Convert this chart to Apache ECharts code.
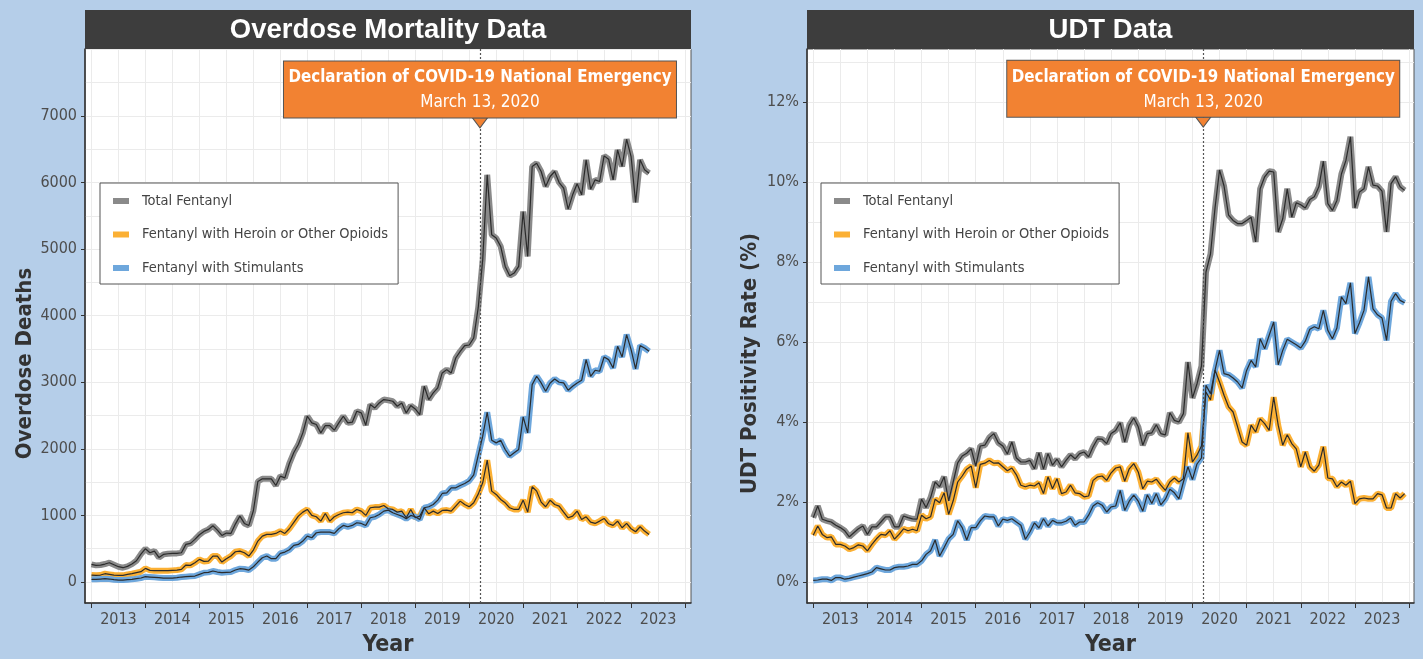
<!DOCTYPE html>
<html lang="en">
<head>
    <meta charset="UTF-8">
    <title>Fentanyl: overdose mortality and UDT positivity</title>
    <style>
        html, body {
            margin: 0;
            padding: 0;
            background: #b5cee9;
        }

        #chart {
            width: 1423px;
            height: 659px;
        }
    </style>
</head>
<body>
<div id="chart"></div>
<script src="https://cdn.jsdelivr.net/npm/echarts@6/dist/echarts.min.js"></script>
<script>

    // monthly series, first value = January 2013
    var startYear = 2013;
    var covidDate = 2020 + 2 / 12 + 12 / 365;   // March 13, 2020

    var names = ['Total Fentanyl', 'Fentanyl with Heroin or Other Opioids', 'Fentanyl with Stimulants'];
    var colors = ['#8a8a8a', '#fbb034', '#6ea7dc'];

    var deathTicks = [0, 1000, 2000, 3000, 4000, 5000, 6000, 7000];
    var rateTicks = [0, 2, 4, 6, 8, 10, 12];

    // overdose deaths (Jan 2013 - May 2023)
    var deathTotal = [
        265, 250, 255, 270, 290, 260, 230, 215, 235, 270, 320, 420,
        500, 440, 465, 370, 415, 425, 430, 430, 440, 565, 580, 640,
        710, 760, 790, 845, 780, 700, 735, 730, 870, 990, 880, 850,
        1070, 1510, 1550, 1550, 1550, 1450, 1590, 1565, 1780, 1945,
        2065, 2240, 2490, 2390, 2365, 2240, 2350, 2350, 2280, 2390, 2490, 2390,
        2400, 2565, 2540, 2355, 2665, 2615, 2690, 2740, 2730, 2715, 2640, 2690,
        2540, 2650, 2600, 2515, 2940, 2740, 2840, 2915, 3140, 3190, 3140, 3365,
        3465, 3550, 3560, 3665, 4120, 4840, 6115, 5215, 5165, 5040, 4740, 4600,
        4640, 4740, 5565, 4890, 6240, 6290, 6165, 5940, 6090, 6165, 6000, 5915,
        5600, 5815, 5980, 5815, 6340, 5900, 6040, 6015, 6400, 6350, 6040, 6490,
        6240, 6650, 6390, 5700, 6340, 6190, 6140
    ];
    var deathHeroin = [
        105, 100, 105, 125, 115, 105, 100, 100, 115, 125, 140, 155,
        205, 175, 170, 170, 170, 170, 175, 180, 190, 255, 250, 290,
        340, 310, 315, 390, 390, 300, 350, 390, 455, 465, 440, 390,
        480, 615, 690, 715, 715, 730, 765, 730, 800, 895,
        990, 1050, 1090, 1000, 980, 915, 1030, 915, 980, 1015, 1040, 1050,
        1040, 1090, 1065, 1000, 1115, 1125, 1125, 1150, 1100, 1090, 1050, 1065,
        965, 1090, 965, 990, 1115, 1025, 1065, 1030, 1075, 1080, 1065, 1140,
        1215, 1165, 1130, 1190, 1320, 1490, 1830, 1365, 1315, 1240, 1190, 1115,
        1090, 1090, 1230, 1050, 1430, 1365, 1200, 1130, 1230, 1165, 1140, 1050,
        965, 990, 1065, 940, 980, 900, 880, 915, 955, 875, 850, 915,
        815, 880, 800, 755, 830, 765, 715
    ];
    var deathStim = [
        40, 40, 45, 50, 45, 35, 30, 30, 35, 40, 50, 60,
        80, 75, 70, 65, 60, 60, 60, 65, 75, 80, 85, 90,
        115, 140, 145, 165, 150, 140, 145, 150, 180, 200, 195, 180,
        230, 300, 365, 390, 350, 350, 430, 450, 485, 550,
        565, 615, 690, 665, 740, 750, 750, 750, 730, 800, 850, 830,
        850, 890, 880, 850, 965, 980, 1015, 1065, 1080, 1040, 1015, 990,
        950, 1000, 980, 940, 1115, 1130, 1165, 1230, 1330, 1340, 1415, 1415,
        1450, 1480, 1520, 1610, 1900, 2190, 2550, 2130, 2090, 2130, 1990, 1890,
        1940, 1990, 2480, 2240, 2965, 3090, 2990, 2865, 2990, 3050, 3000, 2990,
        2880, 2940, 2990, 3030, 3340, 3090, 3180, 3165, 3380, 3340, 3215, 3540,
        3380, 3715, 3490, 3200, 3550, 3515, 3465
    ];

    // UDT positivity rate, % (Jan 2013 - Dec 2023)
    var udtTotal = [
        1.61, 1.90, 1.57, 1.53, 1.50, 1.42, 1.36, 1.28, 1.13, 1.23, 1.33, 1.40,
        1.19, 1.38, 1.38, 1.50, 1.63, 1.63, 1.38, 1.38, 1.65, 1.61, 1.58, 1.57,
        2.07, 1.86, 2.11, 2.50, 2.38, 2.63, 2.03, 2.50, 2.98, 3.15, 3.22, 3.33,
        2.90, 3.40, 3.42, 3.61, 3.71, 3.48, 3.40, 3.20, 3.50,
        3.10, 3.00, 3.00, 3.04, 2.83, 3.23, 2.82, 3.21, 2.92, 3.07, 2.88, 3.04,
        3.18, 3.08, 3.21, 3.25, 3.13, 3.38, 3.58, 3.57, 3.46, 3.71, 3.79, 3.98,
        3.50, 3.92, 4.10, 3.88, 3.42, 3.71, 3.73, 3.93, 3.71, 3.68, 4.23, 4.04,
        4.00, 4.21, 5.50, 4.60, 4.95,
        5.40, 7.75, 8.20, 9.35, 10.30, 9.90, 9.17, 9.04, 8.96, 8.96, 9.04, 9.12,
        8.50, 9.83, 10.13, 10.27, 10.25, 8.75, 9.08, 9.83, 9.12, 9.48, 9.43, 9.35,
        9.56, 9.63, 9.88, 10.52, 9.46, 9.29, 9.54, 10.20, 10.54, 11.13, 9.35, 9.75,
        9.83, 10.38, 9.92, 9.90, 9.77, 8.75, 9.96, 10.13, 9.88, 9.79
    ];
    var udtHeroin = [
        1.17, 1.40, 1.19, 1.11, 1.13, 0.94, 0.94, 0.90, 0.82, 0.86, 0.93, 0.90,
        0.78, 0.94, 1.08, 1.19, 1.17, 1.28, 1.07, 1.19, 1.33, 1.28, 1.32, 1.28,
        1.67, 1.58, 1.63, 2.07, 1.98, 2.23, 1.69, 2.03, 2.50, 2.65, 2.82, 2.90,
        2.36, 2.94, 2.97, 3.04, 2.97, 2.98, 2.88, 2.78, 2.85,
        2.68, 2.42, 2.38, 2.42, 2.40, 2.48, 2.21, 2.63, 2.33, 2.58, 2.21, 2.25,
        2.42, 2.23, 2.21, 2.13, 2.15, 2.54, 2.63, 2.65, 2.54, 2.73, 2.85, 2.88,
        2.52, 2.83, 2.96, 2.75, 2.33, 2.52, 2.50, 2.57, 2.42, 2.29, 2.50, 2.60,
        2.50, 2.58, 3.73, 3.00, 3.17,
        3.40, 4.75, 4.55, 5.30, 5.00, 4.67, 4.38, 4.25, 3.88, 3.50, 3.42, 3.92,
        3.75, 4.08, 3.96, 3.79, 4.62, 3.92, 3.42, 3.68, 3.46, 3.33, 2.88, 3.25,
        2.88, 2.77, 2.92, 3.38, 2.60, 2.58, 2.38, 2.50, 2.42, 2.52, 1.96, 2.08,
        2.10, 2.08, 2.08, 2.21, 2.18, 1.85, 1.85, 2.21, 2.10, 2.21
    ];
    var udtStim = [
        0.04, 0.05, 0.07, 0.07, 0.04, 0.11, 0.11, 0.07, 0.09, 0.12, 0.15, 0.18,
        0.21, 0.25, 0.36, 0.33, 0.30, 0.30, 0.36, 0.38, 0.38, 0.40, 0.44, 0.44,
        0.53, 0.69, 0.78, 1.05, 0.65, 0.86, 1.08, 1.19, 1.53, 1.36, 1.05, 1.36,
        1.36, 1.53, 1.65, 1.63, 1.63, 1.40, 1.57,
        1.54, 1.58, 1.50, 1.42, 1.07, 1.25, 1.48, 1.35, 1.58, 1.40, 1.54, 1.48,
        1.48, 1.52, 1.60, 1.42, 1.50, 1.50, 1.67, 1.90, 1.98, 1.92, 1.75, 1.88,
        1.90, 2.29, 1.79, 2.02, 2.17, 2.02, 1.77, 2.18, 1.96, 2.21, 1.93, 2.07,
        2.32, 2.23, 2.08, 2.50, 2.88, 2.56, 2.95,
        3.10, 4.92, 4.71, 5.29, 5.79, 5.21, 5.18, 5.10, 5.00, 4.85, 5.29, 5.54,
        5.38, 6.08, 5.83, 6.17, 6.50, 5.43, 5.79, 6.07, 6.00, 5.93, 5.85, 6.02,
        6.32, 6.38, 6.33, 6.79, 6.29, 6.08, 6.35, 7.13, 6.96, 7.48, 6.21, 6.48,
        6.79, 7.63, 6.83, 6.68, 6.60, 6.04, 7.02, 7.21, 7.04, 6.98
    ];

    var NARROW = "'Liberation Sans Narrow', 'DejaVu Sans Condensed', 'Arial Narrow', sans-serif";
    var GRID_LINE = '#ebebeb';
    var INK = '#333';

    var steps = function (from, to, step) {
        var out = [];
        for (var v = from; v <= to + 1e-9; v += step) {
            out.push(Math.round(v * 1000) / 1000);
        }
        return out;
    };

    var yearTicks = steps(2013, 2024, 1);
    var halfYears = steps(2013, 2024, 0.5);
    var midYears = steps(2013.5, 2023.5, 1);

    var toPoints = function (values) {
        return values.map(function (v, i) {
            return [startYear + i / 12, v];
        });
    };

    // x axes for one panel: the visible one, and one that only draws the half-year grid
    var makeXAxes = function (gridIndex, min, max) {
        return [
            {
                type: 'value', gridIndex: gridIndex, min: min, max: max,
                name: 'Year', nameLocation: 'middle', nameGap: 31,
                nameTextStyle: {fontFamily: NARROW, fontWeight: 'bold', fontSize: 23, color: INK},
                axisLine: {show: true, onZero: false, lineStyle: {color: INK, width: 1.5}},
                axisTick: {show: true, customValues: yearTicks, length: 5, lineStyle: {color: INK}},
                axisLabel: {
                    customValues: midYears, margin: 9,
                    fontFamily: NARROW, fontSize: 16, color: '#4d4d4d',
                    formatter: function (v) {
                        return String(Math.floor(v));
                    }
                },
                splitLine: {show: false}
            },
            {
                type: 'value', gridIndex: gridIndex, min: min, max: max,
                axisLine: {show: false},
                axisTick: {show: false, customValues: halfYears},
                axisLabel: {show: false},
                splitLine: {show: true, lineStyle: {color: GRID_LINE, width: 1}}
            }
        ];
    };

    var makeYAxes = function (gridIndex, min, max, name, ticks, gridValues, unit, nameGap) {
        return [
            {
                type: 'value', gridIndex: gridIndex, min: min, max: max,
                name: name, nameLocation: 'middle', nameGap: nameGap,
                nameTextStyle: {fontFamily: NARROW, fontWeight: 'bold', fontSize: 22, color: INK, padding: [0, 75, 0, 0]},
                axisLine: {show: true, onZero: false, lineStyle: {color: INK, width: 1.5}},
                axisTick: {show: true, customValues: ticks, length: 4, lineStyle: {color: INK}},
                axisLabel: {
                    customValues: ticks, margin: 8,
                    fontFamily: NARROW, fontSize: 16, color: '#4d4d4d',
                    formatter: function (v) {
                        return String(v) + unit;
                    }
                },
                splitLine: {show: false}
            },
            {
                type: 'value', gridIndex: gridIndex, min: min, max: max,
                axisLine: {show: false},
                axisTick: {show: false, customValues: gridValues},
                axisLabel: {show: false},
                splitLine: {show: true, lineStyle: {color: GRID_LINE, width: 1}}
            }
        ];
    };

    // thick coloured band with a thin dark line on top
    var makeLines = function (index, values, axisIndex) {
        var data = toPoints(values);
        return [
            {
                name: names[index], type: 'line', data: data,
                xAxisIndex: axisIndex, yAxisIndex: axisIndex,
                symbol: 'none', z: 2, animation: false,
                lineStyle: {color: colors[index], width: 6},
                itemStyle: {color: colors[index]},
                emphasis: {disabled: true}
            },
            {
                name: names[index] + ' line', type: 'line', data: data,
                xAxisIndex: axisIndex, yAxisIndex: axisIndex,
                symbol: 'none', z: 3, animation: false,
                lineStyle: {color: '#2b2b2b', width: 1.2},
                emphasis: {disabled: true}
            }
        ];
    };

    var covidMarks = function (tipValue) {
        return {
            markLine: {
                silent: true, symbol: 'none', animation: false,
                label: {show: false},
                lineStyle: {color: '#555', type: [2, 2], width: 1.2},
                data: [{xAxis: covidDate}]
            },
            markPoint: {
                silent: true, animation: false,
                symbol: 'path://M0,0 L16,0 L8,10 Z',
                symbolSize: [15, 10],
                symbolOffset: [0, -5],
                itemStyle: {color: '#f28232', borderColor: '#555', borderWidth: 1},
                label: {
                    show: true, position: 'top', distance: 0,
                    width: 386, align: 'center',
                    backgroundColor: '#f28232', borderColor: '#555', borderWidth: 1,
                    padding: [3, 3, 3, 3],
                    formatter: '{a|Declaration of COVID-19 National Emergency}\n{b|March 13, 2020}',
                    rich: {
                        a: {fontFamily: NARROW, fontWeight: 'bold', fontSize: 16.8, color: '#fff', lineHeight: 27, align: 'center'},
                        b: {fontFamily: NARROW, fontSize: 17, color: '#fff', lineHeight: 23, align: 'center'}
                    }
                },
                data: [{coord: [covidDate, tipValue]}]
            }
        };
    };

    var makeLegend = function (left) {
        return {
            orient: 'vertical', left: left, top: 183,
            data: names, icon: 'rect', itemWidth: 16, itemHeight: 6, itemGap: 18.5,
            padding: [10.5, 10, 8.5, 13],
            backgroundColor: '#fff', borderColor: '#555', borderWidth: 1,
            selectedMode: false,
            textStyle: {fontFamily: NARROW, fontSize: 14.5, color: '#444', padding: [0, 0, 0, 8], width: 249}
        };
    };

    var titleBar = function (left, width, text) {
        return [
            {type: 'rect', left: left, top: 10, shape: {width: width, height: 39}, style: {fill: '#3d3d3d'}},
            {
                type: 'text', x: left + width / 2, y: 30,
                style: {
                    text: text, fill: '#fff', align: 'center', verticalAlign: 'middle',
                    fontFamily: "'Liberation Sans', Arial, sans-serif", fontWeight: 'bold', fontSize: 27.5
                }
            }
        ];
    };

    var series = [];
    series = series.concat(makeLines(0, deathTotal, 0), makeLines(1, deathHeroin, 0), makeLines(2, deathStim, 0));
    series = series.concat(makeLines(0, udtTotal, 2), makeLines(1, udtHeroin, 2), makeLines(2, udtStim, 2));
    Object.assign(series[1], covidMarks(6820));
    Object.assign(series[7], covidMarks(11.37));

    var option = {
        backgroundColor: '#b5cee9',
        animation: false,
        grid: [
            {
                left: 85, top: 49, width: 606, height: 554, outerBoundsMode: 'none',
                show: true, backgroundColor: '#fff', borderColor: '#555', borderWidth: 1
            },
            {
                left: 807, top: 49, width: 607, height: 554, outerBoundsMode: 'none',
                show: true, backgroundColor: '#fff', borderColor: '#555', borderWidth: 1
            }
        ],
        xAxis: makeXAxes(0, 2012.88, 2024.11).concat(makeXAxes(1, 2012.885, 2024.09)),
        yAxis: makeYAxes(0, -315, 8005, 'Overdose Deaths', deathTicks, steps(0, 8000, 500), '', 42)
            .concat(makeYAxes(1, -0.525, 13.325, 'UDT Positivity Rate (%)', rateTicks, steps(0, 13, 1), '%', 46)),
        legend: [makeLegend(100), makeLegend(821)],
        graphic: titleBar(85, 606, 'Overdose Mortality Data').concat(titleBar(807, 607, 'UDT Data')),
        series: series
    };

    var myChart = echarts.init(document.getElementById('chart'));
    myChart.setOption(option);
</script>
</body>
</html>
